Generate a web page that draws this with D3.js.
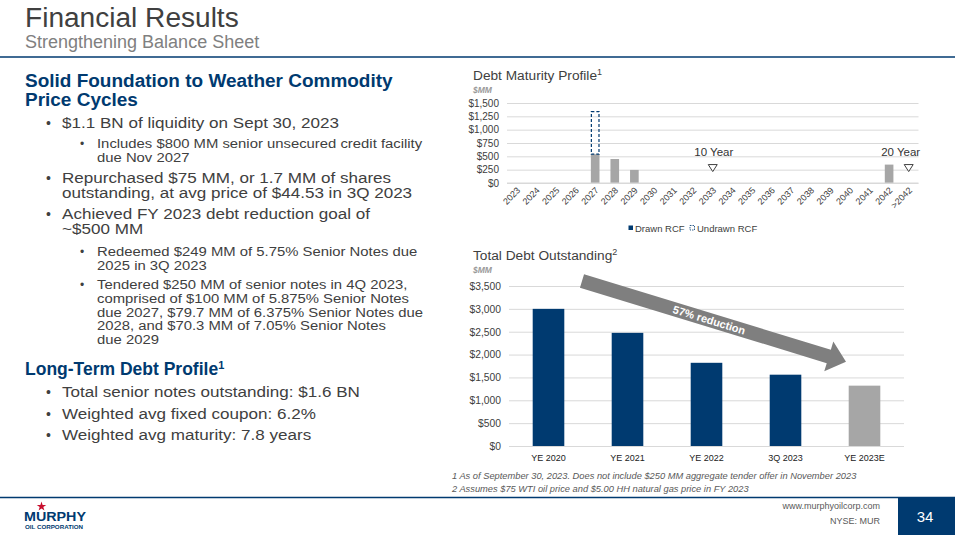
<!DOCTYPE html>
<html>
<head>
<meta charset="utf-8">
<script src="https://cdn.jsdelivr.net/npm/d3@7"></script>
<style>
  html, body { margin: 0; padding: 0; background: #fff; }
  svg { display: block; font-family: "Liberation Sans", Arial, sans-serif; }
</style>
</head>
<body>
<div id="slide"></div>
<script>
// ---- data ----
const maturityYears = ['2023','2024','2025','2026','2027','2028','2029','2030','2031','2032','2033',
  '2034','2035','2036','2037','2038','2039','2040','2041','2042','>2042'];
const seniorNotes  = [0,0,0,0,540,450,245,0,0,0,0,0,0,0,0,0,0,0,0,345,0];
const undrawnRcf   = [0,0,0,0,800,0,0,0,0,0,0,0,0,0,0,0,0,0,0,0,0];
const maturityTicks = [0,250,500,750,1000,1250,1500];
const markerYears  = ['2033','>2042'];
const markerLabels = ['10 Year','20 Year'];
const markerLevel  = 280;

const debtPeriods  = ['YE 2020','YE 2021','YE 2022','3Q 2023','YE 2023E'];
const debtTotals   = [3000,2475,1820,1560,1320];
const debtEstimate = [false,false,false,false,true];
const debtTicks    = [0,500,1000,1500,2000,2500,3000,3500];

const NAVY = '#003a70';
const GREY_BAR = '#a6a6a6';
const GRID = '#d9d9d9';
const TEXT = '#404040';
const money = v => '$' + d3.format(',')(v);

const W = 955, H = 535;
const svg = d3.select('#slide').append('svg').attr('width', W).attr('height', H);

// text drawn slightly wider than the installed font, like the slide
const wide = (sel, x, y, sx) => sel.attr('transform', `translate(${x},${y}) scale(${sx},1)`);

// ---- header ----
wide(svg.append('text'), 25, 27, 1.04).attr('font-size', 27).attr('fill', TEXT).text('Financial Results');
wide(svg.append('text'), 25, 48, 1.0).attr('font-size', 18).attr('fill', '#808080').text('Strengthening Balance Sheet');
svg.append('line').attr('x1', 0).attr('x2', W).attr('y1', 57).attr('y2', 57).attr('stroke', NAVY).attr('stroke-width', 1.5);

// ---- left text ----
const left = svg.append('g').attr('fill', TEXT);
const head = (lines, y, sx, sup) => {
  const t = wide(left.append('text'), 25, y, sx).attr('font-size', 17.5)
    .attr('font-weight', 'bold').attr('fill', NAVY);
  lines.forEach((l, i) => t.append('tspan').attr('x', 0).attr('dy', i ? 19 : 0).text(l));
  if (sup) t.append('tspan').attr('font-size', 11).attr('dy', -6).text(sup);
};
const bullet = (lines, y0, lvl) => {
  const fs = lvl === 1 ? 14.6 : 13.5;
  const lh = lvl === 1 ? 15 : 13.8;
  const sx = lvl === 1 ? 1.17 : 1.1;
  const bx = lvl === 1 ? 46 : 80;
  const tx = lvl === 1 ? 62 : 97;
  left.append('text').attr('x', bx).attr('y', y0).attr('font-size', lvl === 1 ? 14 : 12).text('•');
  const t = wide(left.append('text'), tx, y0, sx).attr('font-size', fs);
  lines.forEach((l, i) => t.append('tspan').attr('x', 0).attr('y', i * lh).text(l));
};
head(['Solid Foundation to Weather Commodity', 'Price Cycles'], 87, 1.085);
bullet(['$1.1 BN of liquidity on Sept 30, 2023'], 128, 1);
bullet(['Includes $800 MM senior unsecured credit facility', 'due Nov 2027'], 148, 2);
bullet(['Repurchased $75 MM, or 1.7 MM of shares', 'outstanding, at avg price of $44.53 in 3Q 2023'], 183, 1);
bullet(['Achieved FY 2023 debt reduction goal of', '~$500 MM'], 219, 1);
bullet(['Redeemed $249 MM of 5.75% Senior Notes due', '2025 in 3Q 2023'], 256, 2);
bullet(['Tendered $250 MM of senior notes in 4Q 2023,', 'comprised of $100 MM of 5.875% Senior Notes',
  'due 2027, $79.7 MM of 6.375% Senior Notes due', '2028, and $70.3 MM of 7.05% Senior Notes', 'due 2029'], 289, 2);
head(['Long-Term Debt Profile'], 375, 1.0, '1');
bullet(['Total senior notes outstanding: $1.6 BN'], 397, 1);
bullet(['Weighted avg fixed coupon: 6.2%'], 418.5, 1);
bullet(['Weighted avg maturity: 7.8 years'], 440, 1);

// ---- chart 1: debt maturity profile ----
const c1 = svg.append('g');
c1.append('text').attr('x', 473).attr('y', 80).attr('font-size', 13.7).attr('fill', TEXT)
  .text('Debt Maturity Profile').append('tspan').attr('font-size', 9).attr('dy', -5).text('1');
c1.append('text').attr('x', 473).attr('y', 93).attr('font-size', 8.5).attr('font-style', 'italic')
  .attr('font-weight', 'bold').attr('fill', '#999').text('$MM');

const x1 = d3.scaleBand().domain(maturityYears).range([507, 918.5]).paddingInner(0.56).paddingOuter(0.28);
const y1 = d3.scaleLinear().domain([0, 1500]).range([183, 103]);

c1.append('g').attr('transform', 'translate(507,0)')
  .call(d3.axisLeft(y1).tickValues(maturityTicks).tickSize(-411.5).tickFormat(money).tickPadding(8))
  .call(g => g.select('.domain').remove())
  .call(g => g.selectAll('.tick line').attr('stroke', GRID))
  .call(g => g.selectAll('.tick text').attr('font-size', 10).attr('fill', TEXT).attr('font-family', null));

c1.selectAll('.bar').data(maturityYears).join('rect')
  .attr('x', d => x1(d)).attr('width', x1.bandwidth())
  .attr('y', (d, i) => y1(seniorNotes[i]))
  .attr('height', (d, i) => y1(0) - y1(seniorNotes[i]))
  .attr('fill', GREY_BAR);

c1.selectAll('.undrawn').data(maturityYears.filter((d, i) => undrawnRcf[i] > 0)).join('rect')
  .each(function (d) {
    const i = maturityYears.indexOf(d);
    d3.select(this)
      .attr('x', x1(d) + 0.5).attr('width', x1.bandwidth() - 1)
      .attr('y', y1(seniorNotes[i] + undrawnRcf[i]))
      .attr('height', y1(seniorNotes[i]) - y1(seniorNotes[i] + undrawnRcf[i]))
      .attr('fill', 'none').attr('stroke', NAVY).attr('stroke-width', 1.2).attr('stroke-dasharray', '3,2');
  });

// x axis baseline + rotated labels
c1.append('line').attr('x1', 507).attr('x2', 918.5).attr('y1', y1(0)).attr('y2', y1(0)).attr('stroke', GRID);
c1.selectAll('.yl').data(maturityYears).join('text')
  .attr('transform', d => `translate(${x1(d) + x1.bandwidth() / 2 + 4},${y1(0) + 8}) rotate(-45)`)
  .attr('text-anchor', 'end').attr('font-size', 9).attr('fill', TEXT).text(d => d);

// term markers
markerYears.forEach((m, k) => {
  const cx = x1(m) + x1.bandwidth() / 2;
  const cy = y1(markerLevel);
  c1.append('path').attr('d', `M${cx - 4.5},${cy - 3.5}L${cx + 4.5},${cy - 3.5}L${cx},${cy + 3.5}Z`)
    .attr('fill', '#fff').attr('stroke', TEXT).attr('stroke-width', 1);
  c1.append('text').attr('x', k === 0 ? cx + 1 : cx - 8).attr('y', cy - 12).attr('text-anchor', 'middle')
    .attr('font-size', 11.5).attr('fill', '#333').text(markerLabels[k]);
});

// legend
const lg = c1.append('g').attr('font-size', 9.5).attr('fill', TEXT);
lg.append('rect').attr('x', 628.5).attr('y', 225.5).attr('width', 4.5).attr('height', 4.5).attr('fill', NAVY);
lg.append('text').attr('x', 635).attr('y', 231.5).text('Drawn RCF');
lg.append('rect').attr('x', 690).attr('y', 225.5).attr('width', 4.5).attr('height', 4.5)
  .attr('fill', 'none').attr('stroke', NAVY).attr('stroke-width', 0.8).attr('stroke-dasharray', '1.5,1');
lg.append('text').attr('x', 697).attr('y', 231.5).text('Undrawn RCF');

// ---- chart 2: total debt outstanding ----
const c2 = svg.append('g');
c2.append('text').attr('x', 473).attr('y', 260).attr('font-size', 13.7).attr('fill', TEXT)
  .text('Total Debt Outstanding').append('tspan').attr('font-size', 9).attr('dy', -5).text('2');
c2.append('text').attr('x', 473).attr('y', 273).attr('font-size', 8.5).attr('font-style', 'italic')
  .attr('font-weight', 'bold').attr('fill', '#999').text('$MM');

const x2 = d3.scaleBand().domain(debtPeriods).range([509, 904]).paddingInner(0.6).paddingOuter(0.3);
const y2 = d3.scaleLinear().domain([0, 3500]).range([446, 286]);

c2.append('g').attr('transform', 'translate(509,0)')
  .call(d3.axisLeft(y2).tickValues(debtTicks).tickSize(-395).tickFormat(money).tickPadding(8))
  .call(g => g.select('.domain').remove())
  .call(g => g.selectAll('.tick line').attr('stroke', GRID))
  .call(g => g.selectAll('.tick text').attr('font-size', 10.3).attr('fill', TEXT).attr('font-family', null));

c2.selectAll('.bar').data(debtPeriods).join('rect')
  .attr('x', d => x2(d)).attr('width', x2.bandwidth())
  .attr('y', (d, i) => y2(debtTotals[i]))
  .attr('height', (d, i) => y2(0) - y2(debtTotals[i]))
  .attr('fill', (d, i) => debtEstimate[i] ? GREY_BAR : NAVY);

c2.selectAll('.xl').data(debtPeriods).join('text')
  .attr('x', d => x2(d) + x2.bandwidth() / 2).attr('y', 461)
  .attr('text-anchor', 'middle').attr('font-size', 9).attr('fill', '#222').text(d => d);

// reduction arrow
const a0 = [582, 281], a1 = [846, 361.7];
const ang = Math.atan2(a1[1] - a0[1], a1[0] - a0[0]) * 180 / Math.PI;
const len = Math.hypot(a1[0] - a0[0], a1[1] - a0[1]);
const arrow = c2.append('g').attr('transform', `translate(${a0[0]},${a0[1]}) rotate(${ang})`);
const hl = 18, sw = 7, hw = 15.5;
arrow.append('path')
  .attr('d', `M0,${-sw}L${len - hl},${-sw}L${len - hl},${-hw}L${len},0L${len - hl},${hw}L${len - hl},${sw}L0,${sw}Z`)
  .attr('fill', '#7f7f7f');
arrow.append('text').attr('x', 133).attr('y', 4).attr('text-anchor', 'middle')
  .attr('font-size', 11).attr('font-weight', 'bold').attr('fill', '#fff').text('57% reduction');

// ---- footnotes ----
const fn = svg.append('g').attr('font-size', 9.3).attr('font-style', 'italic').attr('fill', '#595959');
fn.append('text').attr('x', 452).attr('y', 479).text('1 As of September 30, 2023. Does not include $250 MM aggregate tender offer in November 2023');
fn.append('text').attr('x', 452).attr('y', 492).text('2 Assumes $75 WTI oil price and $5.00 HH natural gas price in FY 2023');

// ---- footer ----
svg.append('line').attr('x1', 0).attr('x2', W).attr('y1', 497.5).attr('y2', 497.5).attr('stroke', NAVY).attr('stroke-width', 1.5);
svg.append('rect').attr('x', 898).attr('y', 497).attr('width', 57).attr('height', 38).attr('fill', NAVY);
svg.append('text').attr('x', 925).attr('y', 521.5).attr('text-anchor', 'middle').attr('font-size', 15).attr('fill', '#fff').text('34');
svg.append('text').attr('x', 880).attr('y', 509).attr('text-anchor', 'end').attr('font-size', 9).attr('fill', '#595959').text('www.murphyoilcorp.com');
svg.append('text').attr('x', 880).attr('y', 524).attr('text-anchor', 'end').attr('font-size', 9).attr('fill', '#595959').text('NYSE: MUR');

// logo
const logo = svg.append('g');
const star = d3.symbol().type(d3.symbolStar).size(28);
logo.append('path').attr('d', star()).attr('transform', 'translate(41.5,506.5)').attr('fill', '#c8102e');
logo.append('text').attr('x', 24).attr('y', 521).attr('font-size', 13.5).attr('font-weight', 'bold').attr('fill', NAVY)
  .attr('textLength', 62).attr('lengthAdjust', 'spacingAndGlyphs').text('MURPHY');
logo.append('text').attr('x', 25).attr('y', 528.5).attr('font-size', 5.5).attr('font-weight', 'bold').attr('fill', NAVY)
  .attr('textLength', 58).attr('lengthAdjust', 'spacingAndGlyphs').text('OIL CORPORATION');
</script>
</body>
</html>
